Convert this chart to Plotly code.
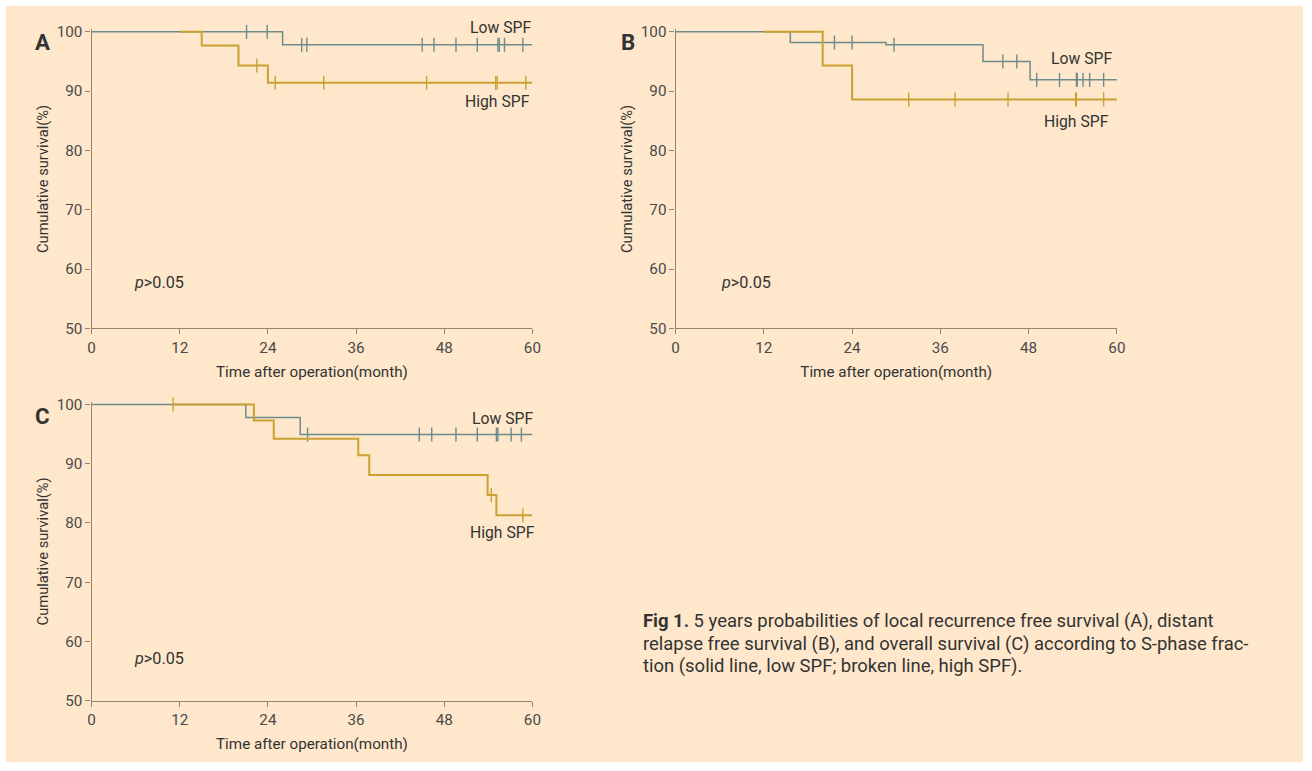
import numpy as np
import plotly.graph_objects as go

# ---------------- data ----------------
# Panel A: local recurrence free survival
A_low_t = [0, 26.0, 60]
A_low_s = [100, 97.8, 97.8]
A_low_cens = [21.1, 23.9, 28.6, 29.3, 45.0, 46.6, 49.6, 52.5, 55.3, 55.5, 56.2, 58.7]
A_high_t = [12, 15.0, 20.0, 24.0, 60]
A_high_s = [100, 97.7, 94.3, 91.4, 91.4]
A_high_cens = [22.5, 25.0, 31.6, 45.6, 55.0, 55.2, 59.1]

# Panel B: distant relapse free survival
B_low_t = [0, 15.6, 28.6, 41.8, 48.2, 60]
B_low_s = [100, 98.2, 97.8, 95.0, 91.9, 91.9]
B_low_cens = [21.6, 24.0, 29.7, 44.5, 46.4, 49.1, 52.2, 54.5, 54.6, 55.4, 56.3, 58.2]
B_high_t = [12, 20.0, 24.0, 60]
B_high_s = [100, 94.3, 88.6, 88.6]
B_high_cens = [31.7, 38.0, 45.2, 54.4, 54.5, 58.2]

# Panel C: overall survival
C_low_t = [0, 21.0, 28.4, 60]
C_low_s = [100, 97.8, 94.9, 94.9]
C_low_cens = [29.4, 44.6, 46.3, 49.6, 52.5, 55.1, 55.3, 57.1, 58.5]
C_high_t = [11.1, 22.1, 24.8, 36.3, 37.8, 53.9, 55.1, 60]
C_high_s = [100, 97.3, 94.2, 91.4, 88.1, 84.7, 81.3, 81.3]
C_high_cens = [11.1, 54.4, 58.7]

x_ticks = [0, 12, 24, 36, 48, 60]
y_ticks = [50, 60, 70, 80, 90, 100]
group_labels = ["Low SPF", "High SPF"]
panel_letters = ["A", "B", "C"]
y_title = "Cumulative survival(%)"
x_title = "Time after operation(month)"
p_text = "<i>p</i>>0.05"
caption_lines = [
    "<b>Fig 1.</b> 5 years probabilities of local recurrence free survival (A), distant",
    "relapse free survival (B), and overall survival (C) according to S-phase frac-",
    "tion (solid line, low SPF; broken line, high SPF).",
]

# ---------------- styling ----------------
W, H = 1312, 771
BG = "#FEE7CB"
LOW_C = "#6E8B8C"
HIGH_C = "#C9A233"
AX_C = "#958471"
TXT_C = "#4a4a4a"
FONT = "Roboto"

# small correction so that the photographed page lands on the target pixels
SX, OX = 0.991, 3.1
SY, OY = 0.9806, 5.9
FS = 1.0 / 0.986


def fx(px):
    return ((px - OX) / SX) / W


def fy(py):
    return 1 - ((py - OY) / SY) / H


def step_value(ts, ss, t):
    idx = np.searchsorted(np.array(ts), t, side="right") - 1
    return float(np.array(ss)[max(idx, 0)])


fig = go.Figure()

panels = [
    ("x", "y", A_low_t, A_low_s, A_low_cens, A_high_t, A_high_s, A_high_cens),
    ("x2", "y2", B_low_t, B_low_s, B_low_cens, B_high_t, B_high_s, B_high_cens),
    ("x3", "y3", C_low_t, C_low_s, C_low_cens, C_high_t, C_high_s, C_high_cens),
]

for xa, ya, lt, ls, lc, ht, hs, hc in panels:
    for t, s, c, col, w in [(lt, ls, lc, LOW_C, 1.5), (ht, hs, hc, HIGH_C, 2.0)]:
        fig.add_trace(go.Scatter(x=t, y=s, mode="lines", line=dict(color=col, width=w, shape="hv"),
                                 xaxis=xa, yaxis=ya, showlegend=False, hoverinfo="skip"))
        fig.add_trace(go.Scatter(x=c, y=[step_value(t, s, v) for v in c], mode="markers",
                                 marker=dict(symbol="line-ns", size=10, line=dict(color=col, width=1.4)),
                                 xaxis=xa, yaxis=ya, showlegend=False, cliponaxis=False,
                                 hoverinfo="skip"))

ymax = 100.4
top_ext = (ymax - 100) * 5.93

ax_common = dict(showline=True, linecolor=AX_C, linewidth=1.2, ticks="outside", ticklen=5,
                 tickcolor=AX_C, tickwidth=1.2, showgrid=False, zeroline=False,
                 tickfont=dict(family=FONT, size=15 * FS, color=TXT_C))
xcommon = dict(ax_common, range=[0, 60], tickvals=x_ticks, ticktext=[str(v) for v in x_ticks],
               title=dict(text=x_title, font=dict(family=FONT, size=15 * FS, color="#333"), standoff=10))
ycommon = dict(ax_common, range=[50, ymax], tickvals=y_ticks, ticktext=[str(v) for v in y_ticks],
               title=dict(text=y_title, font=dict(family=FONT, size=14.5 * FS, color="#333"), standoff=4))

fig.update_layout(
    width=W, height=H, margin=dict(l=0, r=0, t=0, b=0),
    paper_bgcolor="white", plot_bgcolor="rgba(0,0,0,0)",
    font=dict(family=FONT, color=TXT_C),
    xaxis=dict(xcommon, domain=[fx(90.7), fx(532)], anchor="y"),
    yaxis=dict(ycommon, domain=[fy(328.3), fy(31.7 - top_ext)], anchor="x"),
    xaxis2=dict(xcommon, domain=[fx(675.3), fx(1117)], anchor="y2"),
    yaxis2=dict(ycommon, domain=[fy(328.3), fy(31.7 - top_ext)], anchor="x2"),
    xaxis3=dict(xcommon, domain=[fx(90.7), fx(532)], anchor="y3"),
    yaxis3=dict(ycommon, domain=[fy(700.7), fy(404.3 - top_ext)], anchor="x3"),
    shapes=[dict(type="rect", xref="paper", yref="paper", x0=max(fx(5), 0), x1=1, y0=0,
                 y1=min(fy(5), 1), fillcolor=BG, line=dict(width=0), layer="below")],
)

ann = []
label_font = dict(family=FONT, size=15.5 * FS, color="#333")
label_pos = [
    ((500, 27), (497, 101)),
    ((1082, 58), (1077, 121)),
    ((502, 418), (502, 532)),
]
for (lo, hi) in label_pos:
    for (px, py), txt in zip((lo, hi), group_labels):
        ann.append(dict(x=fx(px), y=fy(py), xref="paper", yref="paper", text=txt, showarrow=False,
                        xanchor="center", yanchor="middle", font=label_font))
for (px, py), L in zip([(42, 42), (628, 42), (42, 416)], panel_letters):
    ann.append(dict(x=fx(px), y=fy(py), xref="paper", yref="paper", text="<b>%s</b>" % L,
                    showarrow=False, xanchor="center", yanchor="middle",
                    font=dict(family=FONT, size=22 * FS, color="#333")))
for (px, py) in [(158, 282), (746, 282), (158, 658)]:
    ann.append(dict(x=fx(px), y=fy(py), xref="paper", yref="paper", text=p_text, showarrow=False,
                    xanchor="center", yanchor="middle", font=dict(family=FONT, size=16 * FS, color="#333")))
for i, line in enumerate(caption_lines):
    ann.append(dict(x=fx(641), y=fy(621 + 22.5 * i), xref="paper", yref="paper", text=line,
                    showarrow=False, xanchor="left", yanchor="middle",
                    font=dict(family=FONT, size=18.2 * FS, color="#333")))
fig.update_layout(annotations=ann)

fig.write_html("out.html", config={"displayModeBar": False},
               post_script="document.body.style.margin='0px';document.body.style.overflow='hidden';")
